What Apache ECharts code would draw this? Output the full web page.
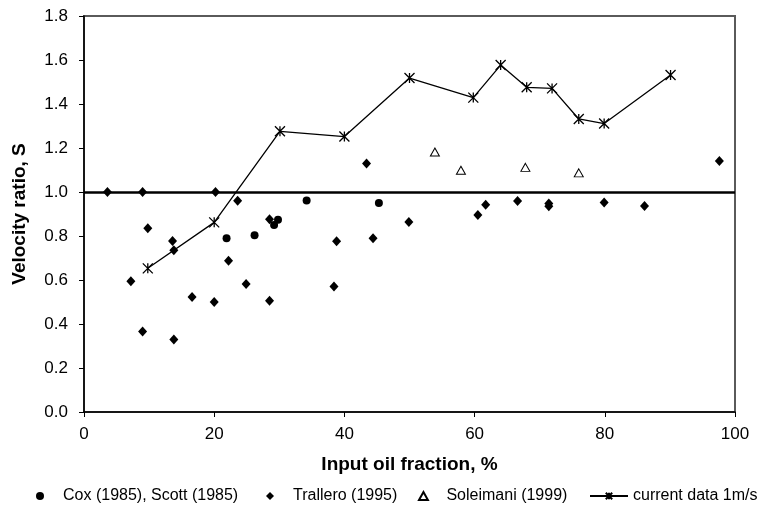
<!DOCTYPE html>
<html>
<head>
<meta charset="utf-8">
<script src="https://cdn.jsdelivr.net/npm/echarts@6/dist/echarts.min.js"></script>
<style>
  html, body { margin: 0; padding: 0; background: #fff; }
  #chart { width: 765px; height: 510px; }
</style>
</head>
<body>
<div id="chart"></div>
<script>
// Cox (1985), Scott (1985): [oil fraction %, velocity ratio]
const coxScott = [
  [21.9, 0.79], [26.2, 0.803], [29.2, 0.85], [29.8, 0.874], [34.2, 0.961], [45.3, 0.95]
];

// Trallero (1995)
const trallero = [
  [3.6, 1.0], [9.0, 1.0], [20.2, 1.0], [23.6, 0.96], [9.8, 0.835], [13.6, 0.777],
  [13.8, 0.735], [7.2, 0.594], [16.6, 0.523], [20.0, 0.5], [9.0, 0.366], [13.8, 0.33],
  [22.2, 0.688], [24.9, 0.582], [28.5, 0.506], [28.5, 0.876], [38.8, 0.776], [38.4, 0.57],
  [43.4, 1.129], [44.4, 0.79], [49.9, 0.864], [60.5, 0.895], [61.7, 0.942], [66.6, 0.959],
  [71.4, 0.948], [71.4, 0.935], [79.9, 0.952], [86.1, 0.936], [97.6, 1.141]
];

// Soleimani (1999)
const soleimani = [
  [53.9, 1.182], [57.9, 1.099], [67.8, 1.112], [76.0, 1.087]
];

// current data 1m/s
const currentData = [
  [9.8, 0.653], [20.0, 0.862], [30.1, 1.276], [40.0, 1.252], [50.0, 1.518], [59.8, 1.429],
  [64.0, 1.577], [68.0, 1.476], [71.9, 1.471], [76.0, 1.332], [79.9, 1.311], [90.1, 1.532]
];

// reference level S = 1
const unityLevel = 1.0;

const FONT = '"Liberation Sans", Arial, sans-serif';
const starPath = 'path://M0,0L10,10M10,0L0,10M5,0L5,10';
const diamondPath = 'path://M5,0L10,5L5,10L0,5Z';
const trianglePath = 'path://M5,0L10,9L0,9Z';

// one legend box per entry so each keeps its own spacing
function legendEntry(name, icon, left, width) {
  const entry = { name: name };
  if (icon) entry.icon = icon;
  return {
    top: 483, left: left,
    itemWidth: width, itemHeight: 8,
    symbolKeepAspect: true,
    textStyle: { fontFamily: FONT, fontSize: 16, color: '#000' },
    data: [entry]
  };
}

const chart = echarts.init(document.getElementById('chart'), null, { renderer: 'canvas' });

chart.setOption({
  backgroundColor: '#ffffff',
  animation: false,
  textStyle: { fontFamily: FONT, color: '#000' },
  grid: {
    left: 84, right: 30, top: 16, bottom: 98,
    show: true, borderColor: '#5a5a5a', borderWidth: 2, backgroundColor: 'transparent'
  },
  xAxis: {
    type: 'value', min: 0, max: 100, interval: 20,
    name: 'Input oil fraction, %', nameLocation: 'middle', nameGap: 43,
    nameTextStyle: { fontFamily: FONT, fontSize: 19, fontWeight: 'bold', color: '#000' },
    axisLine: { lineStyle: { color: '#000', width: 1.5 } },
    axisTick: { show: true, inside: false, length: 5, lineStyle: { color: '#000' } },
    axisLabel: { fontFamily: FONT, fontSize: 17, color: '#000', margin: 14 },
    splitLine: { show: false }
  },
  yAxis: {
    type: 'value', min: 0, max: 1.8, interval: 0.2,
    name: 'Velocity ratio, S', nameLocation: 'middle', nameGap: 55,
    nameTextStyle: { fontFamily: FONT, fontSize: 19, fontWeight: 'bold', color: '#000' },
    axisLine: { show: true, lineStyle: { color: '#000', width: 1.5 } },
    axisTick: { show: true, inside: false, length: 5, lineStyle: { color: '#000' } },
    axisLabel: {
      fontFamily: FONT, fontSize: 17, color: '#000', margin: 16,
      formatter: v => v.toFixed(1)
    },
    splitLine: { show: false }
  },
  legend: [
    legendEntry('Cox (1985), Scott (1985)', 'circle', 31, 36),
    legendEntry('Trallero (1995)', diamondPath, 261, 36),
    legendEntry('Soleimani (1999)', trianglePath, 413, 36),
    legendEntry('current data 1m/s', null, 584, 38)
  ],
  series: [
    {
      name: 'Cox (1985), Scott (1985)', type: 'scatter', data: coxScott,
      symbol: 'circle', symbolSize: 8,
      itemStyle: { color: '#000', opacity: 1 }
    },
    {
      name: 'Trallero (1995)', type: 'scatter', data: trallero,
      symbol: 'diamond', symbolSize: [9, 10],
      itemStyle: { color: '#000', opacity: 1 },
      markLine: {
        silent: true, symbol: 'none', label: { show: false },
        lineStyle: { color: '#000', width: 2.5, type: 'solid' },
        data: [{ yAxis: unityLevel }]
      }
    },
    {
      name: 'Soleimani (1999)', type: 'scatter', data: soleimani,
      symbol: 'triangle', symbolSize: [9, 8],
      itemStyle: { color: '#fff', borderColor: '#000', borderWidth: 1, opacity: 1 }
    },
    {
      name: 'current data 1m/s', type: 'line', data: currentData,
      symbol: starPath, symbolSize: 10, showAllSymbol: true,
      lineStyle: { color: '#000', width: 1.3 },
      itemStyle: { color: 'transparent', borderColor: '#000', borderWidth: 1.3 }
    }
  ]
});
</script>
</body>
</html>
